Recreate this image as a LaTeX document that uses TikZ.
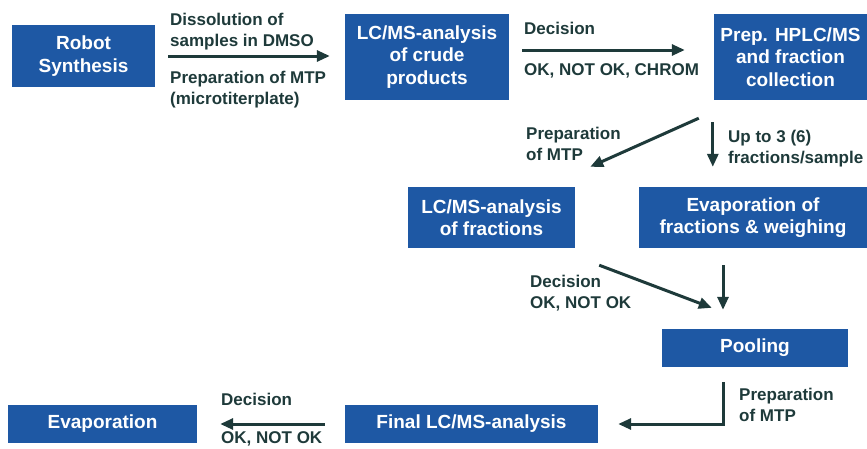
\documentclass[tikz,border=0pt]{standalone}
\usepackage{fontspec}
\setmainfont{Liberation Sans}
\usetikzlibrary{arrows.meta,positioning}

\definecolor{boxblue}{RGB}{30,88,164}
\definecolor{arrowdark}{RGB}{30,58,58}

\begin{document}
\begin{tikzpicture}[
  x=1pt, y=-1pt,
  every node/.style={align=center},
  stage/.style={rectangle, fill=boxblue, text=white, inner sep=0pt, font=\bfseries\fontsize{19}{22.5}\selectfont},
  note/.style={anchor=north west, inner sep=0pt, align=left, text=arrowdark, font=\bfseries\fontsize{17}{21}\selectfont},
  arrow/.style={-{Triangle[length=13pt, width=11pt]}, line width=3pt, draw=arrowdark}
]
\useasboundingbox (0,0) rectangle (867,448);

% --- TOP ROW ---
\node[stage, minimum width=143pt, minimum height=62pt] (synth) at (83.5,56) {Robot\\Synthesis};
\node[stage, minimum width=164pt, minimum height=86pt] (crude) at (427,57) {LC/MS-analysis\\of crude\\products};
\node[stage, minimum width=153pt, minimum height=86pt] (hplc) at (790.5,57) {Prep. HPLC/MS\\and fraction\\collection};

% --- MIDDLE ROW ---
\node[stage, minimum width=167pt, minimum height=61pt] (fracms) at (491.5,217.5) {LC/MS-analysis\\of fractions};
\node[stage, minimum width=228pt, minimum height=61pt] (evapfrac) at (753,217.5) {Evaporation of\\fractions \& weighing};
\node[stage, minimum width=186pt, minimum height=38pt] (pooling) at (755,348) {Pooling};

% --- BOTTOM ROW ---
\node[stage, minimum width=253pt, minimum height=38pt] (final) at (471.5,424) {Final LC/MS-analysis};
\node[stage, minimum width=189pt, minimum height=38pt] (evap) at (102.5,424) {Evaporation};

% --- FLOW ---
\draw[arrow, shorten <=13pt, shorten >=15pt] (synth.east) -- (synth.east -| crude.west);
\draw[arrow, shorten <=13pt, shorten >=29pt] ([yshift=7pt]crude.east) -- ([yshift=7pt]hplc.west);
\draw[arrow] ([shift={(-15,18)}]hplc.south west) -- ([shift={(15,-20)}]fracms.north east);
\draw[arrow, shorten <=22pt, shorten >=20pt] ([xshift=-1pt]hplc.south west) -- ([xshift=-1pt]hplc.south west |- evapfrac.north);
\draw[arrow] ([shift={(24,17)}]fracms.south east) -- ([shift={(50,-21)}]pooling.north west);
\draw[arrow, shorten <=17pt, shorten >=19pt] ([xshift=-30pt]evapfrac.south) -- ([xshift=-30pt]evapfrac.south |- pooling.north);
\draw[arrow, shorten <=15pt, shorten >=20pt] ([xshift=-32pt]pooling.south) |- (final.east);
\draw[arrow, shorten <=20pt, shorten >=23pt] (final.west) -- (evap.east);

% --- LABELS ---
\node[note] (dissol) at (170,13) {Dissolution of\\samples in DMSO};
\node[note] (prepmtp) at (170,71) {Preparation of MTP\\(microtiterplate)};
\node[note] (decide) at (524,22) {Decision};
\node[note] (verdict) at (524,63) {OK, NOT OK, CHROM};
\node[note] (prepfrac) at (526,127) {Preparation\\of MTP};
\node[note] (upto) at (728,130) {Up to 3 (6)\\fractions/sample};
\node[note] (decfrac) at (530,275) {Decision\\OK, NOT OK};
\node[note] (prepfinal) at (739,388) {Preparation\\of MTP};
\node[note] (decfinal) at (221,393) {Decision};
\node[note] (verfinal) at (221,431) {OK, NOT OK};

\end{tikzpicture}
\end{document}
